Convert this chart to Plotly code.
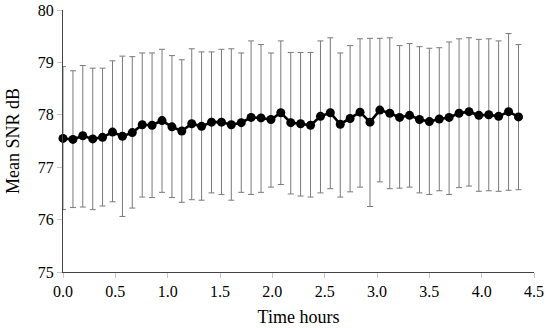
import plotly.graph_objects as go

time_hours = [0.000, 0.095, 0.189, 0.284, 0.378, 0.473, 0.568, 0.662, 0.757, 0.851,
              0.946, 1.041, 1.135, 1.230, 1.324, 1.419, 1.514, 1.608, 1.703, 1.797,
              1.892, 1.987, 2.081, 2.176, 2.270, 2.365, 2.460, 2.554, 2.649, 2.743,
              2.838, 2.933, 3.027, 3.122, 3.216, 3.311, 3.406, 3.500, 3.595, 3.689,
              3.784, 3.879, 3.973, 4.068, 4.162, 4.257, 4.352]

mean_snr = [77.55, 77.53, 77.60, 77.54, 77.57, 77.67, 77.59, 77.66, 77.81, 77.80,
            77.89, 77.77, 77.69, 77.83, 77.78, 77.86, 77.86, 77.81, 77.85, 77.95,
            77.94, 77.91, 78.04, 77.85, 77.83, 77.80, 77.97, 78.04, 77.82, 77.93,
            78.05, 77.86, 78.09, 78.03, 77.95, 77.99, 77.91, 77.87, 77.92, 77.95,
            78.03, 78.06, 77.99, 78.00, 77.97, 78.06, 77.96]

upper_snr = [78.92, 78.84, 78.94, 78.89, 78.89, 79.03, 79.12, 79.11, 79.18, 79.18,
             79.25, 79.13, 79.05, 79.26, 79.20, 79.20, 79.25, 79.26, 79.18, 79.41,
             79.34, 79.18, 79.41, 79.19, 79.19, 79.19, 79.41, 79.47, 79.18, 79.32,
             79.45, 79.46, 79.46, 79.47, 79.32, 79.36, 79.30, 79.27, 79.28, 79.39,
             79.45, 79.47, 79.44, 79.45, 79.41, 79.55, 79.34]

lower_snr = [76.19, 76.23, 76.24, 76.19, 76.26, 76.34, 76.06, 76.22, 76.43, 76.42,
             76.52, 76.42, 76.33, 76.38, 76.37, 76.51, 76.48, 76.37, 76.52, 76.48,
             76.52, 76.62, 76.67, 76.49, 76.45, 76.43, 76.51, 76.59, 76.43, 76.53,
             76.62, 76.25, 76.72, 76.59, 76.60, 76.62, 76.51, 76.48, 76.55, 76.48,
             76.61, 76.64, 76.54, 76.55, 76.54, 76.56, 76.57]

x_ticks = [0.0, 0.5, 1.0, 1.5, 2.0, 2.5, 3.0, 3.5, 4.0, 4.5]
y_ticks = [75, 76, 77, 78, 79, 80]

err_plus = [u - m for u, m in zip(upper_snr, mean_snr)]
err_minus = [m - l for m, l in zip(mean_snr, lower_snr)]

FONT = "Liberation Serif, DejaVu Serif, serif"

fig = go.Figure()
fig.add_trace(go.Scatter(
    x=time_hours, y=mean_snr,
    mode="lines+markers",
    line=dict(color="black", width=2.6),
    marker=dict(color="black", size=9),
    error_y=dict(type="data", symmetric=False, array=err_plus, arrayminus=err_minus,
                 color="#7a7a7a", thickness=1, width=3),
    showlegend=False,
    cliponaxis=False,
))

fig.update_layout(
    width=550, height=328,
    margin=dict(l=63, r=16, t=10, b=56, autoexpand=False),
    paper_bgcolor="white", plot_bgcolor="white",
    font=dict(family=FONT, size=16, color="black"),
)
fig.update_xaxes(
    range=[0, 4.5], tickvals=x_ticks, ticktext=[f"{v:.1f}" for v in x_ticks],
    showgrid=False, zeroline=False, automargin=False,
    showline=True, linecolor="#444444", linewidth=1.2,
    ticks="outside", ticklen=5, tickcolor="#c8c8c8", tickwidth=1,
    tickfont=dict(family=FONT, size=16),
    title=dict(text="Time hours", font=dict(family=FONT, size=18), standoff=11),
)
fig.update_yaxes(
    range=[75, 80], tickvals=y_ticks,
    showgrid=False, zeroline=False, automargin=False,
    showline=True, linecolor="#444444", linewidth=1.2,
    ticks="outside", ticklen=5, tickcolor="#c8c8c8", tickwidth=1,
    tickfont=dict(family=FONT, size=16),
    title=dict(text="Mean SNR dB", font=dict(family=FONT, size=18), standoff=13),
)

fig.write_html(
    "out.html",
    config={"displayModeBar": False},
    post_script="document.body.style.margin='0';document.body.style.padding='0';",
)
